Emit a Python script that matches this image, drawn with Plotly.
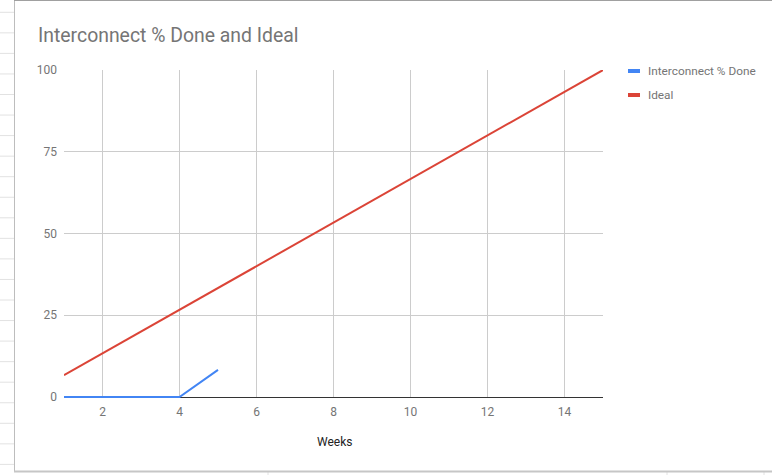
import plotly.graph_objects as go

# Weekly progress data
weeks = list(range(1, 16))
done_weeks = [1, 2, 3, 4, 5]
done_pct = [0, 0, 0, 0, 8.3]
ideal_pct = [6.67, 13.33, 20, 26.67, 33.33, 40, 46.67, 53.33, 60, 66.67,
             73.33, 80, 86.67, 93.33, 100]

series_names = ["Interconnect % Done", "Ideal"]
series_colors = ["#4285F4", "#DB4437"]
x_ticks = [2, 4, 6, 8, 10, 12, 14]
y_ticks = [0, 25, 50, 75, 100]

W, H = 772, 475
# plot area in pixels; one extra pixel below zero so the baseline series
# is not half-clipped at the bottom edge
L, R, T, B = 64, 603, 70, 398
Y_MIN = -100 / 327


def px(x):
    return (x - L) / (R - L)


def py(y):
    return (B - y) / (B - T)


fig = go.Figure()
fig.add_trace(go.Scatter(x=done_weeks, y=done_pct, mode="lines",
                         name=series_names[0],
                         line=dict(color=series_colors[0], width=2)))
fig.add_trace(go.Scatter(x=weeks, y=ideal_pct, mode="lines",
                         name=series_names[1],
                         line=dict(color=series_colors[1], width=2)))

shapes = []
# sheet cell lines around the chart frame
k = 0
while 12.3 + 20.55 * k < H:
    yy = 12.3 + 20.55 * k
    shapes.append(dict(type="line", xref="paper", yref="paper",
                       x0=px(0), x1=px(14), y0=py(yy), y1=py(yy),
                       line=dict(color="#e2e2e2", width=1), layer="below"))
    k += 1
for xx in [268, 667, 764]:
    shapes.append(dict(type="line", xref="paper", yref="paper",
                       x0=px(xx), x1=px(xx), y0=py(472), y1=py(476),
                       line=dict(color="#e2e2e2", width=1), layer="below"))
# chart frame
shapes.append(dict(type="line", xref="paper", yref="paper",
                   x0=px(14.5), x1=px(14.5), y0=py(0), y1=py(471),
                   line=dict(color="#bdbdbd", width=1)))
shapes.append(dict(type="line", xref="paper", yref="paper",
                   x0=px(14), x1=px(773), y0=py(0.5), y1=py(0.5),
                   line=dict(color="#a0a0a0", width=1)))
shapes.append(dict(type="line", xref="paper", yref="paper",
                   x0=px(14), x1=px(773), y0=py(471.5), y1=py(471.5),
                   line=dict(color="#c6c6c6", width=2)))

# legend swatches and labels
annotations = []
for i, (name, color) in enumerate(zip(series_names, series_colors)):
    ly = 71 + 24 * i
    shapes.append(dict(type="line", xref="paper", yref="paper",
                       x0=px(628), x1=px(640), y0=py(ly), y1=py(ly),
                       line=dict(color=color, width=4)))
    annotations.append(dict(text=name, xref="paper", yref="paper",
                            x=px(646), y=py(ly), xanchor="left",
                            yanchor="middle", showarrow=False,
                            font=dict(family="Roboto", size=11.8,
                                      color="#757575")))

annotations.append(dict(text="Interconnect % Done and Ideal",
                        xref="paper", yref="paper", x=px(36), y=py(36),
                        xanchor="left", yanchor="middle", showarrow=False,
                        font=dict(family="Roboto", size=19.4,
                                  color="#757575")))
annotations.append(dict(text="Weeks", xref="paper", yref="paper",
                        x=px(334), y=py(442), xanchor="center",
                        yanchor="middle", showarrow=False,
                        font=dict(family="Roboto", size=12, color="#222222")))

fig.update_layout(
    width=W, height=H,
    margin=dict(l=L, r=W - R, t=T, b=H - B, pad=0),
    paper_bgcolor="white", plot_bgcolor="white",
    showlegend=False,
    shapes=shapes, annotations=annotations,
    font=dict(family="Roboto", size=12, color="#757575"),
    xaxis=dict(range=[1, 15], tickvals=x_ticks, showgrid=True,
               gridcolor="#cccccc", gridwidth=1, zeroline=False,
               showline=False, ticks="", ticklabelstandoff=5,
               tickfont=dict(family="Roboto", size=12, color="#757575")),
    yaxis=dict(range=[Y_MIN, 100], tickvals=y_ticks, showgrid=True,
               gridcolor="#cccccc", gridwidth=1, zeroline=True,
               zerolinecolor="#333333", zerolinewidth=1,
               showline=False, ticks="", ticklabelstandoff=6,
               tickfont=dict(family="Roboto", size=12, color="#757575")),
)

fig.write_html("out.html", config={"displayModeBar": False})
